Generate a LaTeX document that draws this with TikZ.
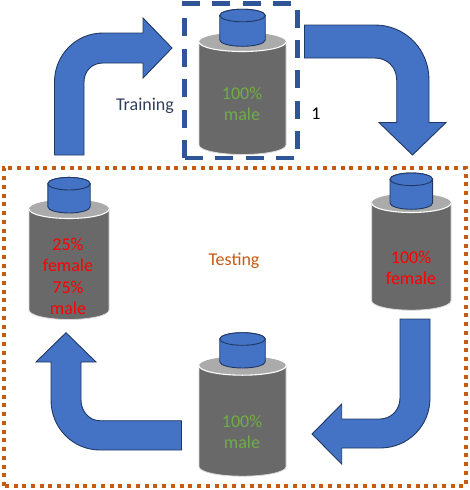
\documentclass[tikz,border=0pt]{standalone}
\usepackage{fontspec}
\setmainfont{Carlito}
\definecolor{arrowblue}{HTML}{4472C4}
\definecolor{arrowedge}{HTML}{1F3864}
\definecolor{trainblue}{HTML}{2F5597}
\definecolor{testorange}{HTML}{C55A11}
\definecolor{malegreen}{HTML}{70AD47}
\definecolor{navytext}{HTML}{323F5A}
\tikzset{
  bigarrow/.style={draw=arrowedge,fill=arrowblue,line width=0.9pt,line join=miter},
  drumbody/.style={draw=black!15,fill=black!59,line width=0.8pt},
  drumtop/.style={fill=black!33},
  drumrim/.style={draw=white,line width=1.1pt},
  lidbody/.style={draw=arrowedge,fill=arrowblue,line width=0.9pt},
  label/.style={font=\fontsize{18}{21.5}\selectfont,inner sep=0pt,align=center},
}
% center x, half width, top y, end y, lid half width, lid top y, lid end y
\newcommand{\drum}[7]{
  \draw[drumbody] (#1-#2,#3) -- (#1-#2,#4) arc[start angle=180,end angle=0,x radius=#2,y radius=9.5] -- (#1+#2,#3) -- cycle;
  \fill[drumtop] (#1,#3) ellipse[x radius=#2,y radius=9.5];
  \draw[drumrim] (#1-#2,#3) arc[start angle=180,end angle=0,x radius=#2,y radius=9.5];
  \draw[lidbody] (#1-#5,#6) -- (#1-#5,#7) arc[start angle=180,end angle=0,x radius=#5,y radius=6.3] -- (#1+#5,#6) arc[start angle=0,end angle=-180,x radius=#5,y radius=6.3] -- cycle;
  \draw[lidbody] (#1,#6) ellipse[x radius=#5,y radius=6.3];
}

\begin{document}
\begin{tikzpicture}[x=1pt,y=-1pt]
  \useasboundingbox (0,0) rectangle (470,490);

  % the four bent arrows
  \draw[bigarrow] (54.5,155) -- (54.5,82) .. controls (54.5,55) and (76,33) .. (103,33) -- (143,33) -- (143,18) -- (172,48) -- (143,78) -- (143,63) -- (103,63) .. controls (92,63) and (84,71) .. (84,82) -- (84,155) -- cycle;
  \draw[bigarrow] (304.5,25) -- (375,25) .. controls (405,25) and (429,49) .. (429,80) -- (429,122.5) -- (446,122.5) -- (412.5,155) -- (379,122.5) -- (396.7,122.5) -- (396.7,80) .. controls (396.7,67) and (387,58) .. (375,58) -- (304.5,58) -- cycle;
  \draw[bigarrow] (430,319) -- (430,398) .. controls (430,426) and (408,448) .. (380,448) -- (341.7,448) -- (341.7,464) -- (312,434) -- (341.7,404) -- (341.7,419) -- (380,419) .. controls (391,419) and (400,410) .. (400,398) -- (400,319) -- cycle;
  \draw[bigarrow] (181.5,450) -- (100,450) .. controls (73,450) and (51,428) .. (51,400) -- (51,362) -- (36,362) -- (66,332.7) -- (96,362) -- (81,362) -- (81,400) .. controls (81,411) and (89,420.7) .. (100,420.7) -- (181.5,420.7) -- cycle;

  % drums
  \drum{242.5}{43.5}{42}{145}{22.75}{15.5}{40}
  \drum{411.3}{39.7}{203}{300.7}{21.3}{179.3}{203}
  \drum{242.5}{43.5}{365.7}{466.7}{22.75}{339}{361.7}
  \drum{69}{40}{209}{310}{21.2}{183.7}{206.7}

  % the two frames
  \draw[trainblue,line width=4.5pt,dash pattern=on 18pt off 12.4pt] (184.5,158) -- (184.5,3.5) -- (297.5,3.5) -- (297.5,158) -- cycle;
  \draw[testorange,line width=4pt,dash pattern=on 4pt off 4.74pt] (3.5,486) -- (3.5,167.5) -- (465.5,167.5) -- (465.5,486) -- cycle;

  \node[label,navytext] (training) at (145,106) {Training};
  \node[label,black] (one) at (316,114) {1};
  \node[label,testorange] (testing) at (234,261) {Testing};
  \node[label,malegreen] (topmale) at (242,104) {100\%\\male};
  \node[label,red] (rightfemale) at (411,268) {100\%\\female};
  \node[label,malegreen] (lowmale) at (242,432) {100\%\\male};
  \node[label,red] (leftmix) at (68,276.5) {25\%\\female\\75\%\\male};
\end{tikzpicture}
\end{document}
